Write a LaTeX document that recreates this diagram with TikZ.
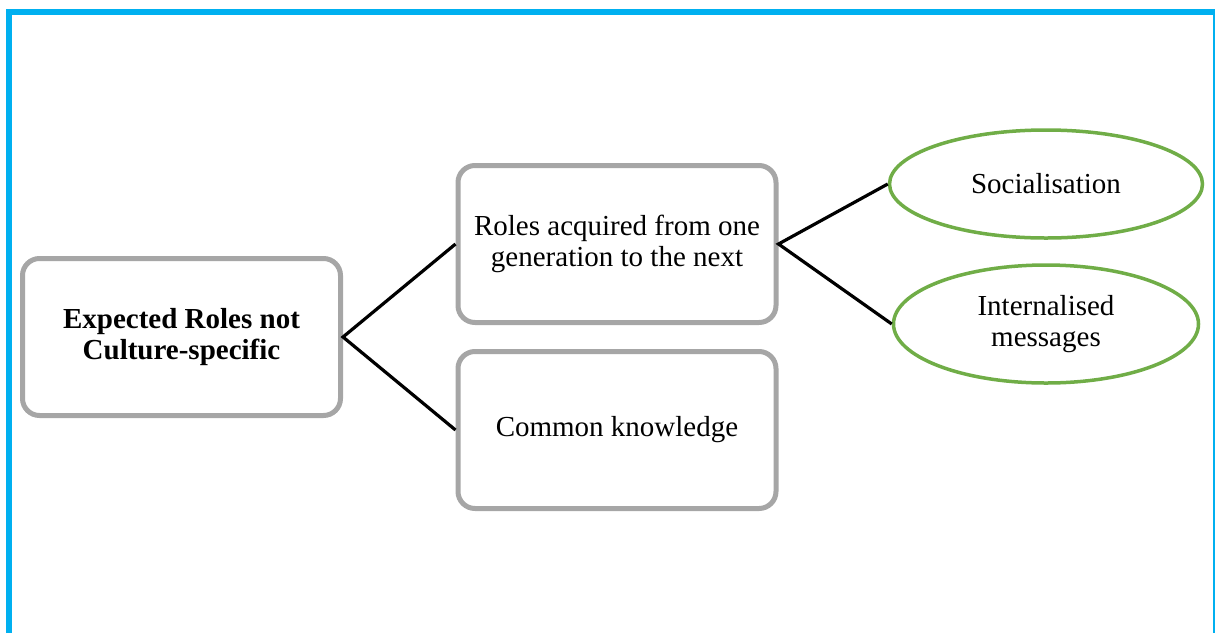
\documentclass[tikz,border=0pt]{standalone}
\usepackage{fontspec}
\setmainfont{Liberation Serif}
\usetikzlibrary{shapes.geometric}
\definecolor{frameblue}{HTML}{00B0F0}
\definecolor{boxgray}{HTML}{A6A6A6}
\definecolor{leafgreen}{HTML}{70AD47}
\tikzset{
  rolebox/.style={draw=boxgray, line width=5pt, rounded corners=17pt, fill=white,
    minimum width=318pt, minimum height=157pt, align=center, inner sep=0pt,
    font=\fontsize{29}{31}\selectfont},
  leaf/.style={draw=leafgreen, line width=3.5pt, ellipse, fill=white, align=center,
    inner sep=0pt, font=\fontsize{29}{31}\selectfont},
  link/.style={draw=black, line width=3.2pt}
}
\begin{document}
\begin{tikzpicture}[x=1pt, y=-1pt]
  \useasboundingbox (0,0) rectangle (1215,633);
  % outer frame: open at the bottom
  \draw[frameblue, line width=6pt] (9,633) -- (9,12) -- (1215,12);
  \draw[frameblue, line width=2pt] (1214,12) -- (1214,633);

  \node[rolebox, font=\bfseries\fontsize{29}{31}\selectfont] (root) at (181.5,337) {Expected Roles not\\Culture-specific};
  \node[rolebox] (gen) at (617,244) {Roles acquired from one\\generation to the next};
  \node[rolebox] (common) at (617,430) {Common knowledge};
  \node[leaf, minimum width=313pt, minimum height=108pt] (social) at (1046,184) {Socialisation};
  \node[leaf, minimum width=305pt, minimum height=118pt] (intern) at (1046,324) {Internalised\\messages};

  \draw[link] (gen.west) -- (root.east) -- (common.west);
  \draw[link] (social.west) -- (gen.east) -- (intern.west);
\end{tikzpicture}
\end{document}
